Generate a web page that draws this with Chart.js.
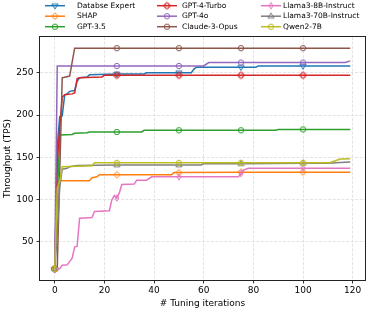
<!DOCTYPE html>
<html><head><meta charset="utf-8">
<script src="https://cdn.jsdelivr.net/npm/chart.js@4.4.1/dist/chart.umd.min.js"></script>
<style>html,body{margin:0;padding:0;background:#fff;}#wrap{width:374px;height:311px;position:relative;}</style>
</head><body><div id="wrap"><canvas id="c" width="374" height="311"></canvas></div>
<script>
// ---- data ----
const seriesNames = ['Databse Expert','SHAP','GPT-3.5','GPT-4-Turbo','GPT-4o','Claude-3-Opus','Llama3-8B-Instruct','Llama3-70B-Instruct','Qwen2-7B'];
const xTickValues = [0,20,40,60,80,100,120];
const yTickValues = [50,100,150,200,250];

const dbExpertIter = [0,1,2,3,4,5,6,8,9,10,13,14,25,36,37,50,55,56,57,75,81,82,100,119];
const dbExpertTps  = [18.2,164,198,199,224,225,228,229,240,244,245,247.5,248.5,248.5,250,250,250,254,256.5,256.5,256.5,258,258,258];

const shapIter = [0,1,2,14,15,17,18,25,47,48,50,75,100,119];
const shapTps  = [18.2,122.5,122.5,122.5,126,127,129.5,129.5,129.5,132,132,132.5,132.5,132.5];

const gpt35Iter = [0,1,2,7,8,13,14,25,35,36,50,75,89,90,100,119];
const gpt35Tps  = [18.2,100,176.5,177,178.5,179,180,180,180,182,182,182,182,183,183,183];

const gpt4TurboIter = [0,1,2,3,4,7,8,9,10,19,20,25,50,75,100,119];
const gpt4TurboTps  = [18.2,145,185,221,224,225,226,243,244,245,247,247,247,247,247,247];

const gpt4oIter = [0,1,25,50,60,62,75,100,117,119];
const gpt4oTps  = [18.2,258,258,258,258,262,262,262,262,264];

const claudeIter = [0,1,3,6,8,25,50,75,100,119];
const claudeTps  = [18.2,19,244,246,279,279,279,279,279,279];

const llama8bIter = [0,2,3,5,7,8,9,10,15,16,22,23,24,25,26,27,32,33,37,39,50,74,75,76,78,100,119];
const llama8bTps  = [18.2,18.5,22.5,23,31,44,45,78,79,86,87,100,105,102,108,118,118.5,123,123,127,127,127,131,135,137,137,137];

const llama70bIter = [0,1,2,3,5,6,9,25,50,59,60,75,100,110,115,119];
const llama70bTps  = [18.2,60,115,136,137,139,140.5,141,141,141,142.5,142.5,143,143,144,144.5];

const qwenIter = [0,1,2,3,9,15,16,25,50,75,100,110,111,115,119];
const qwenTps  = [18.2,113,122,139,139.5,140,143.5,143.5,143.5,143.5,143.5,143.5,144,148,148.5];

// ---- styling ----
const colors = ['#1f77b4','#ff7f0e','#2ca02c','#d62728','#9467bd','#8c564b','#e377c2','#7f7f7f','#bcbd22'];
const shapes = ['tridown','diamond','circle','plus','circle','circle','thindiamond','triup','circle'];
const iters = [dbExpertIter,shapIter,gpt35Iter,gpt4TurboIter,gpt4oIter,claudeIter,llama8bIter,llama70bIter,qwenIter];
const vals  = [dbExpertTps,shapTps,gpt35Tps,gpt4TurboTps,gpt4oTps,claudeTps,llama8bTps,llama70bTps,qwenTps];

function makeMarker(shape, color){
  const s = 12, c = 6, r = 2.7;
  const cv = document.createElement('canvas'); cv.width = s; cv.height = s;
  const g = cv.getContext('2d'); g.strokeStyle = color; g.lineWidth = 1;
  g.beginPath();
  if (shape === 'circle') { g.arc(c,c,r,0,2*Math.PI); }
  else if (shape === 'tridown') { g.moveTo(c-r*1.15,c-r*0.7); g.lineTo(c+r*1.15,c-r*0.7); g.lineTo(c,c+r*1.2); g.closePath(); }
  else if (shape === 'triup') { g.moveTo(c-r*1.15,c+r*0.7); g.lineTo(c+r*1.15,c+r*0.7); g.lineTo(c,c-r*1.2); g.closePath(); }
  else if (shape === 'diamond') { const e=r*1.2; g.moveTo(c,c-e); g.lineTo(c+e,c); g.lineTo(c,c+e); g.lineTo(c-e,c); g.closePath(); }
  else if (shape === 'thindiamond') { const e=r*1.2, w=r*0.7; g.moveTo(c,c-e); g.lineTo(c+w,c); g.lineTo(c,c+e); g.lineTo(c-w,c); g.closePath(); }
  else if (shape === 'plus') {
    const a=r*0.45, e=r*1.1;
    const pts=[[-a,-e],[a,-e],[a,-a],[e,-a],[e,a],[a,a],[a,e],[-a,e],[-a,a],[-e,a],[-e,-a],[-a,-a]];
    pts.forEach((p,i)=>{ if(i===0) g.moveTo(c+p[0],c+p[1]); else g.lineTo(c+p[0],c+p[1]); }); g.closePath();
  }
  g.stroke();
  return cv;
}

const datasets = seriesNames.map((name,i)=>({
  label: name,
  data: iters[i].map((x,k)=>({x:x, y:vals[i][k]})),
  borderColor: colors[i],
  backgroundColor: colors[i],
  borderWidth: 1.5,
  pointStyle: makeMarker(shapes[i], colors[i]),
  pointRadius: c => (c.raw && c.raw.x % 25 === 0 && c.raw.x <= 100) ? 3 : 0,
  pointHoverRadius: 0,
  tension: 0,
  fill: false,
  order: seriesNames.length - 1 - i
}));

const legendColX = [45,157,261];
const legendTextX = [77,182,283];
const legendRowY = [5.7,16.2,26.7];

const gridLegend = {
  id:'gridLegend',
  afterDraw(chart){
    const ctx = chart.ctx;
    chart.data.datasets.forEach((ds,i)=>{
      const col = Math.floor(i/3), row = i%3;
      const x0 = legendColX[col], y = legendRowY[row];
      ctx.save();
      ctx.strokeStyle = ds.borderColor; ctx.lineWidth = 1.5;
      ctx.beginPath(); ctx.moveTo(x0,y); ctx.lineTo(x0+20,y); ctx.stroke();
      ctx.drawImage(ds.pointStyle, x0+10-6, y-6);
      ctx.fillStyle = '#000'; ctx.font = '7.5px "DejaVu Sans"'; ctx.textBaseline = 'middle'; ctx.textAlign='left';
      ctx.fillText(ds.label, legendTextX[col], y);
      ctx.restore();
    });
  }
};
const frame = {
  id:'frame',
  afterDraw(chart){
    const a = chart.chartArea, ctx = chart.ctx;
    ctx.save(); ctx.strokeStyle = '#222'; ctx.lineWidth = 1;
    ctx.strokeRect(Math.round(a.left)-0.5, Math.round(a.top)-0.5, Math.round(a.right-a.left)+1, Math.round(a.bottom-a.top)+1);
    ctx.restore();
  }
};

const tickFont = {family:'DejaVu Sans', size:9};
new Chart(document.getElementById('c'), {
  type:'line',
  data:{datasets},
  options:{
    responsive:false, animation:false, devicePixelRatio:1,
    layout:{padding:{top:37,right:9,left:0,bottom:0}},
    plugins:{legend:{display:false}, tooltip:{enabled:false}},
    scales:{
      x:{type:'linear', min:-5.95, max:124.95,
        afterBuildTicks: s => { s.ticks = xTickValues.map(v=>({value:v})); },
        afterFit: s => { s.height = 31; },
        ticks:{font:tickFont, color:'#000', padding:2, maxRotation:0, autoSkip:false, callback:v=>String(v)},
        grid:{color:'#dcdcdc', lineWidth:0.8, tickLength:3.5, tickColor:'#000', tickWidth:0.8},
        border:{display:false, dash:[3,1.5]},
        title:{display:true, text:'# Tuning iterations', font:{family:'DejaVu Sans', size:9}, color:'#000', padding:{top:0,bottom:2}}
      },
      y:{type:'linear', min:5.1, max:292.2,
        afterBuildTicks: s => { s.ticks = yTickValues.map(v=>({value:v})); },
        afterFit: s => { s.width = 40; },
        ticks:{font:tickFont, color:'#000', padding:3, autoSkip:false, callback:v=>String(v)},
        grid:{color:'#dcdcdc', lineWidth:0.8, tickLength:3.5, tickColor:'#000', tickWidth:0.8},
        border:{display:false, dash:[3,1.5]},
        title:{display:true, text:'Throughput (TPS)', font:{family:'DejaVu Sans', size:9}, color:'#000', padding:{top:2.6,bottom:0}}
      }
    }
  },
  plugins:[gridLegend, frame]
});
</script></body></html>
